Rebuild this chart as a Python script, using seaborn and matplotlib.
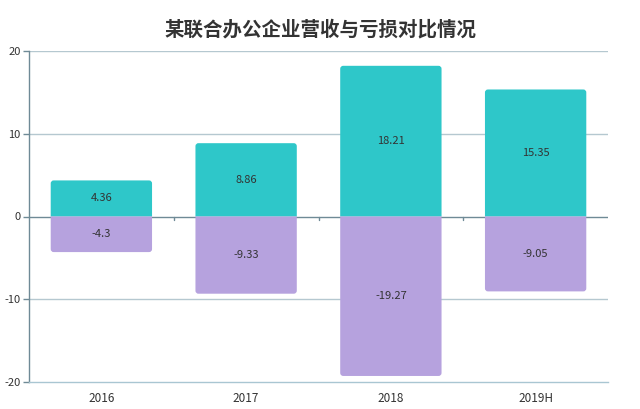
import matplotlib
matplotlib.use("Agg")
import matplotlib.pyplot as plt
import seaborn as sns
import pandas as pd
from matplotlib.path import Path
from matplotlib.patches import PathPatch

categories = ["2016", "2017", "2018", "2019H"]
revenue = [4.36, 8.86, 18.21, 15.35]
loss = [-4.3, -9.33, -19.27, -9.05]
yticks = [-20, -10, 0, 10, 20]
title = "某联合办公企业营收与亏损对比情况"

df = pd.DataFrame({
    "year": categories * 2,
    "value": revenue + loss,
    "series": ["营收"] * 4 + ["亏损"] * 4,
})

sns.set_theme(style="white")
plt.rcParams['font.family'] = ['Noto Sans CJK SC', 'DejaVu Sans']

fig = plt.figure(figsize=(6.4, 4.09), dpi=100)
ax = fig.add_axes([29/640, 27/409, 579/640, 331/409])

sns.barplot(data=df, x="year", y="value", hue="series", dodge=False,
            palette={"营收": "#2EC7C9", "亏损": "#B6A2DE"}, width=0.7,
            legend=False, ax=ax, saturation=1)

ax.set_xlim(-0.5, 3.5)
ax.set_ylim(-20, 20)

# reshape seaborn's bars so the outer end has rounded corners
px_x = 579 / 4.0
px_y = 331 / 40.0
rx = 3.0 / px_x
ry = 3.0 / px_y
for p in list(ax.patches):
    x0, base = p.get_x(), p.get_y()
    w, h = p.get_width(), p.get_height()
    color = p.get_facecolor()
    x1 = x0 + w
    end = base + h
    s = 1 if h >= 0 else -1
    verts = [(x0, base), (x0, end - s * ry), (x0, end), (x0 + rx, end),
             (x1 - rx, end), (x1, end), (x1, end - s * ry), (x1, base),
             (x0, base)]
    codes = [Path.MOVETO, Path.LINETO, Path.CURVE3, Path.CURVE3,
             Path.LINETO, Path.CURVE3, Path.CURVE3, Path.LINETO,
             Path.CLOSEPOLY]
    pp = PathPatch(Path(verts, codes), facecolor=color, edgecolor="none",
                   zorder=2)
    p.set_visible(False)
    ax.add_patch(pp)

# labels
for i, (rv, lv) in enumerate(zip(revenue, loss)):
    ax.text(i, rv / 2, f"{rv:g}", ha="center", va="center", fontsize=8,
            color="#333333", zorder=3)
    ax.text(i, lv / 2, f"{lv:g}", ha="center", va="center", fontsize=8,
            color="#333333", zorder=3)

# grid
for y in [20, 10, -10]:
    ax.axhline(y, color="#b5c8d0", lw=1, zorder=0)
ax.axhline(0, color="#6f8a96", lw=1, zorder=1)
for xb in [0.5, 1.5, 2.5]:
    ax.plot([xb, xb], [0, -0.4], color="#6f8a96", lw=1, zorder=1, clip_on=False)

for s in ["top", "right"]:
    ax.spines[s].set_visible(False)
ax.spines["left"].set_color("#6f8a96")
ax.spines["left"].set_linewidth(1)
ax.spines["bottom"].set_color("#a9c6d2")
ax.spines["bottom"].set_linewidth(1)
ax.set_yticks(yticks)
ax.set_yticklabels([str(t) for t in yticks])
ax.tick_params(axis="y", left=True, length=4, width=1, color="#6f8a96",
               labelsize=8, labelcolor="#333333", pad=2)
ax.tick_params(axis="x", bottom=False, labelsize=8.5, labelcolor="#333333", pad=1)
ax.set_xlabel("")
ax.set_ylabel("")

fig.text(0.5, 0.928, title, ha="center", va="center", fontsize=14,
         fontweight="bold", color="#333333")

fig.savefig("out.png", dpi=100)
